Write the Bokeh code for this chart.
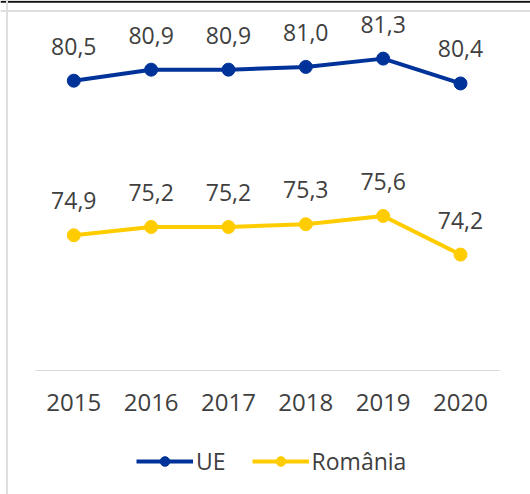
from bokeh.plotting import figure
from bokeh.models import (Range1d, LinearAxis, FixedTicker, LabelSet, Span,
                          ColumnDataSource, Legend, LegendItem)
from bokeh.core.properties import value
from bokeh.embed import file_html
from bokeh.resources import INLINE

# ---- data ----
years = [2015, 2016, 2017, 2018, 2019, 2020]
ue = [80.5, 80.9, 80.9, 81.0, 81.3, 80.4]
ro = [74.9, 75.2, 75.2, 75.3, 75.6, 74.2]
series_names = ["UE", "România"]

BLUE = "#003399"
YELLOW = "#FFCC00"
TXT = "#404040"
GRID = "#d9d9d9"
FONT = "Open Sans"

def fmt(v):
    return f"{v:.1f}".replace(".", ",")

src = ColumnDataSource(dict(
    year=years, ue=ue, ro=ro,
    ue_lbl=[fmt(v) for v in ue], ro_lbl=[fmt(v) for v in ro],
))

# ---- layout constants (pixels) ----
W, H = 530, 494
PX_X = 77.34          # px per year
X0_PX = 73.3          # canvas x of first category
PX_Y = 27.6           # px per unit
BASE = 70.0
BASE_PX = 370.0       # canvas y of baseline

x_start = years[0] - X0_PX / PX_X
x_end = x_start + W / PX_X
y_end = BASE + BASE_PX / PX_Y
y_start = BASE - (H - BASE_PX) / PX_Y

def xpix(px):
    return x_start + px / PX_X

def ypix(py):
    return y_end - py / PX_Y

p = figure(width=W, height=H, output_backend="svg", toolbar_location=None,
           x_range=Range1d(x_start, x_end), y_range=Range1d(y_start, y_end),
           x_axis_location=None, y_axis_location=None,
           min_border_left=0, min_border_right=0, min_border_top=0,
           min_border_bottom=0)
for g in p.grid:
    g.visible = False
p.outline_line_color = None
p.background_fill_color = "white"
p.border_fill_color = "white"

# frame decorations: dark rule on top, light chart border
p.add_layout(Span(location=ypix(1.2), dimension="width", line_color="#111111", line_width=2))
p.add_layout(Span(location=ypix(10.5), dimension="width", line_color="#dedede", line_width=2))
p.add_layout(Span(location=xpix(6.5), dimension="height", line_color="#dedede", line_width=2))

xaxis = LinearAxis(ticker=FixedTicker(ticks=years), fixed_location=BASE,
                   bounds=(years[0] - 0.5, years[-1] + 0.5))
xaxis.axis_line_color = GRID
xaxis.axis_line_width = 1
xaxis.major_tick_line_color = None
xaxis.minor_tick_line_color = None
xaxis.major_label_text_font = FONT
xaxis.major_label_text_font_size = "24px"
xaxis.major_label_text_color = TXT
xaxis.major_label_standoff = 17
p.add_layout(xaxis, "below")

l1 = p.line("year", "ue", source=src, line_color=BLUE, line_width=4, line_join="round")
s1 = p.scatter("year", "ue", source=src, size=13, fill_color=BLUE, line_color=BLUE)
l2 = p.line("year", "ro", source=src, line_color=YELLOW, line_width=4, line_join="round")
s2 = p.scatter("year", "ro", source=src, size=13, fill_color=YELLOW, line_color=YELLOW)

for col, lbl in (("ue", "ue_lbl"), ("ro", "ro_lbl")):
    p.add_layout(LabelSet(x="year", y=col, text=lbl, source=src, y_offset=26,
                          text_align="center", text_baseline="alphabetic",
                          text_font=value(FONT), text_font_size="23px",
                          text_color=TXT))

legend = Legend(items=[LegendItem(label=series_names[0], renderers=[l1, s1]),
                       LegendItem(label=series_names[1], renderers=[l2, s2])],
                location=(136, 17), orientation="horizontal")
legend.border_line_color = None
legend.background_fill_alpha = 0
legend.padding = 0
legend.margin = 0
legend.spacing = 26
legend.glyph_width = 57
legend.glyph_height = 24
legend.label_height = 24
legend.label_standoff = 3
legend.label_text_font = FONT
legend.label_text_font_size = "23px"
legend.label_text_color = TXT
p.add_layout(legend)

open("out.html", "w").write(file_html(p, INLINE))
